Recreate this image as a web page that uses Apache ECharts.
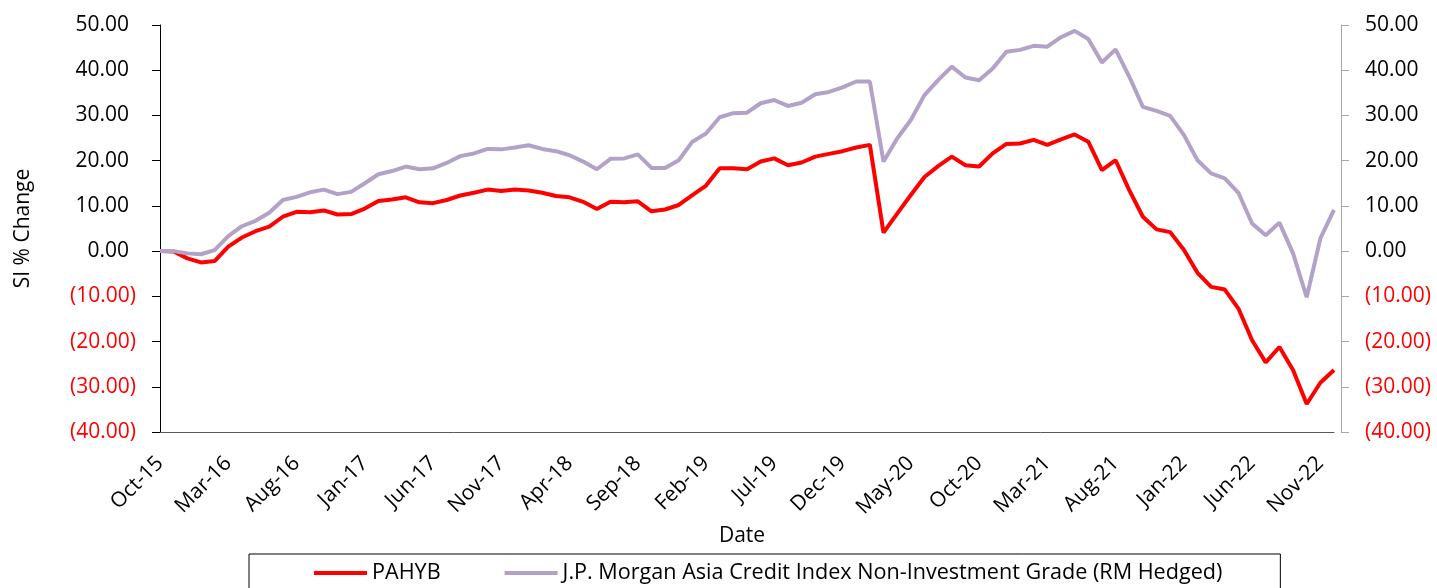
<!DOCTYPE html>
<html>
<head>
<meta charset="utf-8">
<script src="https://cdn.jsdelivr.net/npm/echarts@6/dist/echarts.min.js"></script>
<style>
html,body{margin:0;padding:0;background:#fff;}
#chart{width:1437px;height:588px;}
</style>
</head>
<body>
<div id="chart"></div>
<script>
const categories = [
'Oct-15','Nov-15','Dec-15','Jan-16','Feb-16','Mar-16','Apr-16','May-16','Jun-16','Jul-16','Aug-16','Sep-16','Oct-16','Nov-16','Dec-16',
'Jan-17','Feb-17','Mar-17','Apr-17','May-17','Jun-17','Jul-17','Aug-17','Sep-17','Oct-17','Nov-17','Dec-17',
'Jan-18','Feb-18','Mar-18','Apr-18','May-18','Jun-18','Jul-18','Aug-18','Sep-18','Oct-18','Nov-18','Dec-18',
'Jan-19','Feb-19','Mar-19','Apr-19','May-19','Jun-19','Jul-19','Aug-19','Sep-19','Oct-19','Nov-19','Dec-19',
'Jan-20','Feb-20','Mar-20','Apr-20','May-20','Jun-20','Jul-20','Aug-20','Sep-20','Oct-20','Nov-20','Dec-20',
'Jan-21','Feb-21','Mar-21','Apr-21','May-21','Jun-21','Jul-21','Aug-21','Sep-21','Oct-21','Nov-21','Dec-21',
'Jan-22','Feb-22','Mar-22','Apr-22','May-22','Jun-22','Jul-22','Aug-22','Sep-22','Oct-22','Nov-22','Dec-22'
];
const pahyb = [
0,-0.1,-1.6,-2.5,-2.2,1.0,3.0,4.4,5.4,7.6,8.7,8.6,9.0,8.1,8.2,
9.4,11.1,11.4,11.9,10.8,10.6,11.3,12.3,12.9,13.6,13.3,13.6,
13.4,12.9,12.2,11.9,10.9,9.3,10.9,10.8,11.0,8.8,9.2,10.2,
12.4,14.5,18.3,18.3,18.1,19.8,20.5,19.0,19.6,20.9,21.5,22.1,
22.9,23.5,4.1,8.3,12.4,16.4,18.8,20.9,19.0,18.7,21.6,23.7,
23.8,24.6,23.5,24.7,25.8,24.2,17.9,20.1,13.5,7.6,4.8,4.2,
0.3,-4.8,-7.9,-8.5,-12.7,-19.7,-24.6,-21.2,-26.3,-33.8,-29.1,-26.3
];
const jpmAsia = [
0,0,-0.5,-0.7,0.2,3.3,5.5,6.7,8.5,11.3,12.0,13.0,13.6,12.6,13.1,
15.0,17.0,17.7,18.7,18.1,18.3,19.5,21.0,21.6,22.6,22.5,22.9,
23.4,22.6,22.1,21.2,19.8,18.1,20.4,20.5,21.4,18.4,18.4,20.1,
24.2,26.0,29.6,30.5,30.6,32.7,33.4,32.1,32.8,34.7,35.2,36.2,
37.5,37.5,19.8,24.9,29.0,34.5,37.8,40.8,38.4,37.8,40.4,44.1,
44.5,45.4,45.2,47.3,48.7,46.9,41.7,44.6,38.6,31.9,31.0,29.9,
25.7,20.1,17.2,16.1,12.9,6.1,3.5,6.3,-0.5,-10.2,2.8,9.1
];
const seriesNames = ['PAHYB','J.P. Morgan Asia Credit Index Non-Investment Grade (RM Hedged)'];
const yMin = -40, yMax = 50, yStep = 10;

const FONT = 'Open Sans';
function fmt(v){
  if (v < 0) return '{neg|(' + Math.abs(v).toFixed(2) + ')}';
  return '{pos|' + v.toFixed(2) + '}';
}
function yAxisCfg(pos, lineColor, padPos){
  return {
    type:'value', position:pos, min:yMin, max:yMax, interval:yStep,
    axisLine:{show:true, lineStyle:{color:lineColor, width:1}},
    axisTick:{show:true, inside:false, length:8, lineStyle:{color:lineColor}},
    splitLine:{show:false},
    axisLabel:{
      margin: 24,
      formatter: fmt,
      rich:{
        pos:{color:'#000', fontSize:21, fontFamily:FONT, padding:padPos},
        neg:{color:'#FF0000', fontSize:21, fontFamily:FONT}
      }
    }
  };
}
const chart = echarts.init(document.getElementById('chart'), null, {renderer:'canvas'});
const yl = yAxisCfg('left', '#000', [0,7,0,0]);
yl.name = 'SI % Change';
yl.nameLocation = 'middle';
yl.nameRotate = 90;
yl.nameGap = 126;
yl.nameTextStyle = {color:'#000', fontSize:21, fontFamily:FONT};
const yr = yAxisCfg('right', '#A6A6A6', [0,0,0,0]);
yr.offset = 7;
chart.setOption({
  animation:false,
  backgroundColor:'#fff',
  grid:{left:160, right:103, top:25, bottom:156, containLabel:false},
  legend:{
    data:seriesNames,
    icon:'rect',
    left:249, top:554,
    padding:[8,58,8,65],
    itemGap:64,
    itemWidth:53, itemHeight:4,
    borderColor:'#000', borderWidth:1,
    textStyle:{color:'#000', fontSize:21.6, fontFamily:FONT}
  },
  xAxis:{
    type:'category', data:categories, boundaryGap:false,
    name:'Date', nameLocation:'middle', nameGap:92,
    nameTextStyle:{color:'#000', fontSize:21, fontFamily:FONT, padding:[0,10,0,0]},
    axisLine:{show:true, onZero:false, lineStyle:{color:'#595959', width:1}},
    axisTick:{show:false},
    axisLabel:{interval:4, rotate:45, margin:28, color:'#000', fontSize:21, fontFamily:FONT}
  },
  yAxis:[yl, yr],
  series:[
    {name:seriesNames[0], type:'line', data:pahyb, yAxisIndex:0, symbol:'none', smooth:false,
     lineStyle:{color:'#FF0000', width:4}, itemStyle:{color:'#FF0000'}},
    {name:seriesNames[1], type:'line', data:jpmAsia, yAxisIndex:0, symbol:'none', smooth:false,
     lineStyle:{color:'#B3A2C7', width:4}, itemStyle:{color:'#B3A2C7'}}
  ]
});
</script>
</body>
</html>
